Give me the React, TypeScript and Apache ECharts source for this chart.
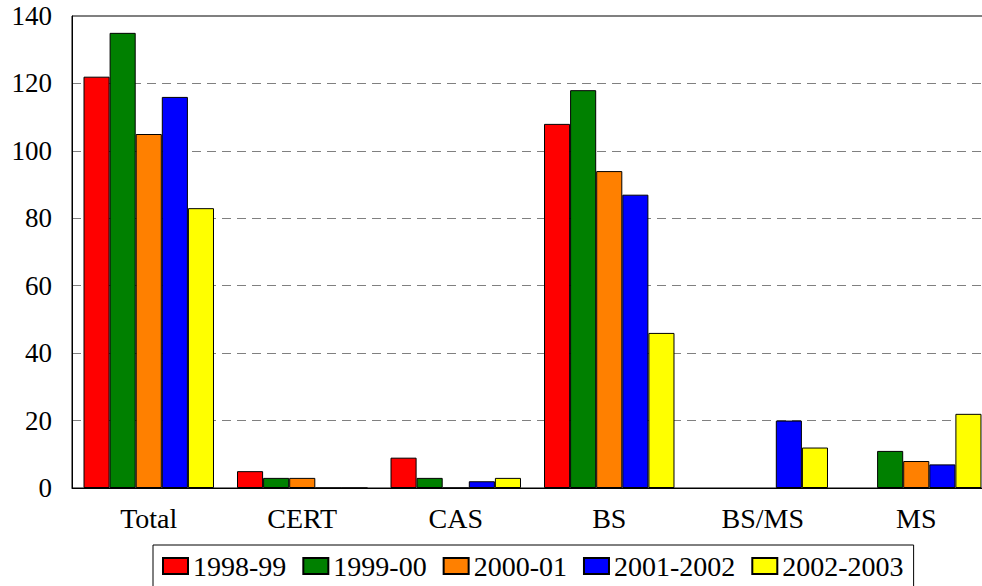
import React, { useEffect, useRef } from "react";
import * as echarts from "echarts";

const categories = ["Total", "CERT", "CAS", "BS", "BS/MS", "MS"];
const seriesNames = ["1998-99", "1999-00", "2000-01", "2001-2002", "2002-2003"];
const colors = ["#ff0000", "#008000", "#ff8000", "#0000ff", "#ffff00"];
const v1998 = [122, 5, 9, 108, null, null];
const v1999 = [135, 3, 3, 118, null, 11];
const v2000 = [105, 3, 0, 94, null, 8];
const v2001 = [116, 0, 2, 87, 20, 7];
const v2002 = [83, 0, 3, 46, 12, 22];
const allValues = [v1998, v1999, v2000, v2001, v2002];

const FONT = "Liberation Serif";

export default function App() {
  const ref = useRef<HTMLDivElement>(null);
  useEffect(() => {
    const chart = echarts.init(ref.current!, undefined, { renderer: "svg" });
    chart.setOption({
      animation: false,
      backgroundColor: "#ffffff",
      grid: {
        left: 72,
        top: 16,
        bottom: 98,
        right: 27,
        show: true,
        borderColor: "#000",
        borderWidth: 1,
      },
      legend: {
        left: 153,
        top: 545,
        padding: [7, 10, 12, 9],
        borderColor: "#000",
        borderWidth: 1,
        itemGap: 16,
        itemWidth: 25,
        itemHeight: 16,
        icon: "rect",
        textStyle: { fontFamily: FONT, fontSize: 28, color: "#000", padding: [0, 0, 0, 0] },
        data: seriesNames,
      },
      xAxis: {
        type: "category",
        data: categories,
        axisLine: { lineStyle: { color: "#000", width: 1 } },
        axisTick: { show: false },
        axisLabel: { fontFamily: FONT, fontSize: 28, color: "#000", margin: 16 },
      },
      yAxis: {
        type: "value",
        min: 0,
        max: 140,
        interval: 20,
        axisLine: { show: true, lineStyle: { color: "#000" } },
        axisTick: { show: false },
        axisLabel: { fontFamily: FONT, fontSize: 27, color: "#000", margin: 20 },
        splitLine: { lineStyle: { color: "#808080", type: [9, 6], width: 1 } },
      },
      series: seriesNames.map((name, i) => ({
        name,
        type: "bar",
        data: allValues[i],
        barGap: "0%",
        barCategoryGap: "15%",
        itemStyle: { color: colors[i], borderColor: "#000", borderWidth: 1 },
      })),
    });
    return () => chart.dispose();
  }, []);
  return (
    <div style={{ position: "absolute", left: 0, top: 0, width: 982, height: 586, overflow: "hidden" }}>
      <div ref={ref} style={{ width: 1020, height: 586 }} />
    </div>
  );
}
